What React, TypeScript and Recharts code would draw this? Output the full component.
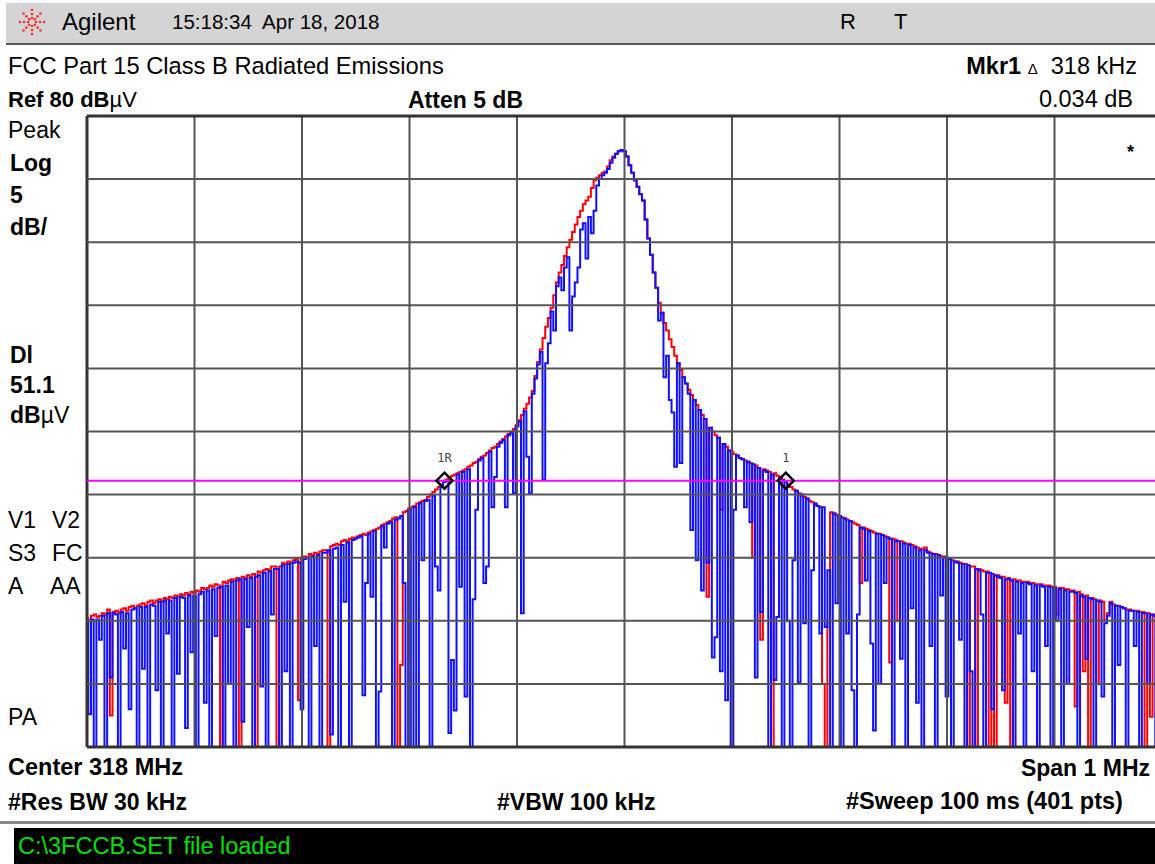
import React from "react";
import { ComposedChart, Line, XAxis, YAxis, ReferenceLine, ReferenceDot } from "recharts";

// sweep settings
const startMHz = 317.5;
const spanMHz = 1;
const sweepPoints = 401;
const displayLine = 51.1;
const freqTicks = [317.5, 317.6, 317.7, 317.8, 317.9, 318.0, 318.1, 318.2, 318.3, 318.4, 318.5];
const ampTicks = [30, 35, 40, 45, 50, 55, 60, 65, 70, 75, 80];
const markerRefIndex = 133;
const markerIndex = 260;

// trace 1 (blue, clear-write), dBuV, points 0-139 / 140-259 / 260-400
const blueLow = [
  39.9, 32.6, 40.1, 30.0, 40.1, 38.5, 40.4, 30.0, 40.6, 35.5,
  40.6, 40.5, 30.0, 40.7, 37.8, 40.6, 33.0, 40.9, 41.0, 30.0,
  41.1, 36.2, 41.1, 30.0, 41.3, 41.2, 34.5, 41.5, 30.0, 41.6,
  39.0, 41.6, 30.0, 41.8, 35.8, 41.9, 41.8, 31.5, 42.0, 37.5,
  42.0, 30.0, 42.1, 42.3, 33.5, 42.4, 30.0, 42.5, 38.8, 42.6,
  42.7, 30.0, 42.8, 35.0, 43.1, 30.0, 43.2, 43.3, 32.0, 43.3,
  39.5, 43.4, 30.0, 43.5, 43.6, 34.8, 43.8, 30.0, 43.9, 40.5,
  44.1, 44.1, 30.0, 44.4, 36.0, 44.5, 30.0, 44.6, 44.7, 44.6,
  33.0, 44.9, 45.0, 30.0, 45.1, 38.0, 45.2, 30.0, 45.4, 45.4,
  45.6, 31.0, 45.7, 45.8, 30.0, 46.0, 41.5, 46.2, 30.0, 46.4,
  46.5, 46.6, 46.7, 34.1, 43.0, 46.9, 41.9, 47.1, 30.0, 34.4,
  47.5, 45.8, 47.7, 47.8, 30.0, 48.0, 48.1, 48.3, 43.0, 30.0,
  48.8, 30.0, 49.0, 30.0, 49.3, 44.8, 49.5, 49.6, 30.0, 49.9,
  44.3, 42.4, 50.6, 51.0, 51.1, 31.1, 36.9, 32.9, 51.6, 42.7,
];
const blueMid = [
  51.8, 34.0, 52.0, 30.0, 41.7, 48.8, 52.7, 52.9, 43.0, 44.3,
  53.4, 49.0, 51.4, 53.8, 54.1, 54.3, 49.0, 54.7, 54.9, 50.1,
  55.4, 55.8, 40.6, 56.6, 53.0, 50.1, 58.0, 59.2, 60.3, 61.3,
  51.2, 60.4, 62.0, 64.5, 63.0, 66.5, 67.2, 66.2, 68.0, 68.8,
  63.0, 65.7, 66.8, 68.0, 71.0, 71.5, 68.7, 72.0, 70.7, 72.5,
  74.5, 75.0, 75.3, 75.5, 75.8, 76.3, 76.7, 77.0, 77.2, 77.3,
  77.2, 76.8, 76.1, 75.5, 74.9, 74.4, 73.8, 73.3, 71.8, 70.3,
  69.0, 67.6, 66.4, 63.8, 64.4, 59.3, 61.0, 57.5, 56.5, 52.2,
  60.4, 52.5, 59.3, 58.8, 58.0, 47.2, 57.5, 44.8, 56.7, 42.4,
  56.0, 44.6, 55.3, 37.1, 38.7, 54.5, 36.0, 54.0, 33.7, 53.5,
  30.0, 48.8, 53.1, 52.9, 52.8, 49.0, 52.6, 47.8, 52.4, 35.5,
  52.1, 40.7, 51.9, 51.8, 30.0, 51.6, 35.3, 40.3, 51.3, 30.0,
];
const blueHigh = [
  51.0, 40.0, 30.0, 44.8, 50.3, 35.1, 50.0, 39.8, 49.7, 30.0,
  44.0, 49.3, 49.1, 39.0, 49.0, 39.5, 44.0, 30.0, 48.5, 41.4,
  48.3, 30.0, 48.1, 39.0, 47.9, 34.5, 30.0, 40.5, 47.4, 47.3,
  43.2, 47.1, 38.2, 31.3, 46.9, 35.0, 46.8, 43.0, 46.6, 46.5,
  30.0, 46.3, 46.3, 37.0, 46.1, 30.0, 46.0, 41.0, 45.8, 33.5,
  45.6, 30.0, 45.6, 45.4, 38.0, 45.3, 30.0, 45.2, 42.0, 45.0,
  34.0, 44.9, 30.0, 44.7, 44.6, 38.5, 44.5, 30.0, 44.4, 36.0,
  30.0, 44.1, 44.0, 40.5, 30.0, 43.8, 43.8, 33.0, 43.6, 43.5,
  43.4, 34.5, 43.3, 43.3, 43.2, 30.0, 43.1, 39.0, 43.0, 30.0,
  43.0, 42.9, 36.0, 42.8, 30.0, 42.8, 42.7, 38.0, 42.7, 30.0,
  42.6, 40.0, 42.5, 30.0, 42.4, 35.0, 42.3, 42.3, 42.2, 30.0,
  42.0, 41.9, 37.0, 41.8, 41.7, 30.0, 41.6, 41.5, 34.0, 39.8,
  40.4, 41.4, 30.0, 41.2, 36.5, 41.1, 41.0, 30.0, 40.8, 40.8,
  38.0, 40.7, 30.0, 40.6, 40.6, 35.0, 40.5, 40.4, 30.0, 40.3,
  40.3,
];

// trace 2 (red), same point ranges
const redLow = [
  40.2, 40.0, 40.4, 40.5, 40.3, 40.4, 40.6, 40.5, 40.9, 32.5,
  40.7, 40.8, 40.6, 40.9, 41.0, 40.8, 41.1, 41.2, 41.0, 41.2,
  41.3, 41.4, 41.2, 41.5, 41.6, 41.4, 41.6, 41.7, 41.5, 41.8,
  41.7, 41.9, 41.8, 42.0, 41.9, 42.1, 42.0, 42.2, 42.1, 42.3,
  42.2, 42.4, 42.3, 42.6, 42.5, 42.6, 42.8, 42.7, 42.9, 42.8,
  30.0, 43.1, 43.0, 43.2, 43.3, 43.2, 43.4, 30.0, 43.5, 43.4,
  43.6, 43.5, 43.7, 30.0, 43.9, 43.8, 44.0, 44.1, 44.0, 44.3,
  44.3, 30.0, 44.3, 44.6, 44.5, 44.7, 44.6, 44.8, 44.9, 33.7,
  45.0, 45.1, 45.0, 45.3, 45.2, 45.4, 45.3, 45.5, 45.6, 45.6,
  30.0, 45.9, 46.0, 46.1, 46.0, 46.3, 46.4, 46.3, 46.5, 46.6,
  46.6, 46.7, 46.8, 46.9, 46.8, 47.0, 47.1, 47.2, 47.3, 47.4,
  47.6, 47.7, 47.8, 47.9, 48.1, 48.2, 30.0, 36.5, 48.6, 48.7,
  48.9, 49.0, 49.1, 49.3, 49.4, 49.5, 49.6, 49.8, 50.0, 50.2,
  50.4, 50.6, 50.8, 51.1, 51.2, 51.3, 51.5, 51.6, 51.7, 51.8,
];
const redMid = [
  51.9, 52.0, 52.2, 52.3, 52.5, 52.6, 52.8, 53.0, 53.1, 53.3,
  53.5, 53.7, 53.8, 54.0, 54.2, 54.4, 54.6, 54.8, 55.0, 55.2,
  55.5, 55.9, 56.3, 56.8, 57.2, 57.7, 58.2, 59.4, 60.5, 61.5,
  62.4, 63.3, 64.0, 64.8, 65.8, 66.8, 67.6, 68.2, 68.9, 69.6,
  70.2, 70.8, 71.4, 72.0, 72.5, 73.0, 73.3, 73.6, 74.3, 74.9,
  75.1, 75.3, 75.5, 75.6, 76.0, 76.5, 76.8, 77.0, 77.2, 77.3,
  77.2, 76.8, 76.1, 75.5, 74.9, 74.4, 73.8, 73.3, 71.8, 70.3,
  69.0, 67.6, 66.4, 65.2, 64.4, 63.6, 63.0, 62.3, 61.7, 61.0,
  60.4, 59.9, 59.3, 58.8, 58.3, 57.9, 57.5, 57.1, 56.7, 56.3,
  56.0, 41.9, 55.3, 55.0, 54.7, 54.5, 48.8, 54.0, 53.8, 53.5,
  53.4, 53.2, 53.1, 52.9, 52.8, 52.7, 52.6, 52.5, 45.0, 52.3,
  52.1, 38.5, 52.0, 51.9, 51.8, 30.0, 51.7, 51.5, 51.4, 51.2,
];
const redHigh = [
  51.0, 50.8, 50.6, 50.4, 50.3, 50.1, 49.9, 49.8, 49.7, 49.5,
  49.4, 49.2, 49.1, 49.0, 35.0, 30.0, 40.0, 48.6, 48.5, 48.4,
  48.3, 48.2, 48.1, 48.0, 47.9, 47.8, 47.7, 47.6, 43.0, 47.4,
  47.3, 47.2, 47.1, 47.0, 46.9, 46.9, 46.8, 46.7, 46.6, 36.7,
  46.5, 46.4, 40.0, 46.3, 46.2, 46.1, 46.1, 46.0, 45.9, 45.8,
  45.7, 45.7, 45.8, 45.5, 45.4, 45.3, 45.3, 45.2, 45.1, 45.1,
  45.0, 44.9, 44.8, 44.7, 44.7, 44.6, 44.5, 44.5, 30.0, 44.3,
  44.3, 30.0, 44.1, 44.0, 43.9, 43.9, 30.0, 43.7, 30.0, 43.6,
  43.5, 43.5, 33.5, 43.4, 30.0, 43.3, 43.2, 43.2, 43.1, 43.1,
  43.1, 43.0, 43.0, 42.9, 42.9, 42.9, 42.8, 42.8, 42.8, 42.7,
  42.7, 40.5, 42.6, 42.6, 42.5, 42.5, 42.4, 42.4, 33.2, 42.3,
  42.1, 36.0, 42.0, 30.0, 41.8, 41.7, 35.0, 41.6, 41.5, 40.0,
  40.6, 41.5, 41.3, 41.2, 41.2, 41.1, 41.0, 40.9, 40.9, 40.8,
  40.8, 40.8, 40.7, 40.7, 30.0, 40.6, 32.4, 40.5, 40.5, 40.4,
  40.4,
];

const trace1 = [...blueLow, ...blueMid, ...blueHigh];
const trace2 = [...redLow, ...redMid, ...redHigh];
const freqAt = (i: number) => startMHz + (i * spanMHz) / (sweepPoints - 1);
const data = trace1.map((v, i) => ({ f: freqAt(i), t1: v, t2: trace2[i] }));

const FONT = '"Liberation Sans", Arial, sans-serif';
const REG = 23; // regular annotation size
const BOLD = 23; // bold annotation size

const Txt = ({ x, cy, size = REG, bold = false, right = false, color = "#000", children }: any) => (
  <div
    style={{
      position: "absolute",
      left: right ? undefined : x,
      right: right ? 1155 - x : undefined,
      top: cy - 0.49 * size,
      fontSize: size,
      fontWeight: bold ? 700 : 400,
      lineHeight: 1,
      whiteSpace: "pre",
      color,
      fontFamily: FONT,
    }}
  >
    {children}
  </div>
);

const markerShape = (label: string) => (props: any) => {
  const { cx, cy } = props;
  return (
    <g>
      <polygon
        points={`${cx},${cy - 8} ${cx + 8},${cy} ${cx},${cy + 8} ${cx - 8},${cy}`}
        fill="none"
        stroke="#000"
        strokeWidth={2.5}
      />
      <text x={cx} y={cy - 19} textAnchor="middle" fontSize={12} fontFamily="DejaVu Sans Mono" fill="#444">
        {label}
      </text>
    </g>
  );
};

const Logo = () => {
  const rays = [0, 45, 90, 135, 180, 225, 270, 315];
  return (
    <svg width={28} height={28} style={{ position: "absolute", left: 18, top: 8 }}>
      {rays.map((a) =>
        [4, 8, 12].map((r) => (
          <circle
            key={`${a}-${r}`}
            cx={14 + r * Math.cos((a * Math.PI) / 180)}
            cy={14 + r * Math.sin((a * Math.PI) / 180)}
            r={1.3}
            fill="#ff3030"
          />
        ))
      )}
    </svg>
  );
};

export default function App() {
  return (
    <div
      style={{
        position: "absolute",
        left: 0,
        top: 0,
        width: 1155,
        height: 864,
        overflow: "hidden",
        background: "#fff",
        fontFamily: FONT,
      }}
    >
      {/* title bar */}
      <div style={{ position: "absolute", left: 6, top: 3, width: 1149, height: 40, background: "#d4d4d4", borderBottom: "2px solid #555" }} />
      <Logo />
      <Txt x={62} cy={22} size={24}>Agilent</Txt>
      <Txt x={172} cy={22} size={20.5}>15:18:34  Apr 18, 2018</Txt>
      <Txt x={840} cy={22} size={22}>R</Txt>
      <Txt x={894} cy={22} size={22}>T</Txt>

      <Txt x={8} cy={67} size={23.7}>FCC Part 15 Class B Radiated Emissions</Txt>
      <Txt x={1137} cy={67} size={23.5} right>
        <b>Mkr1</b> <span style={{ fontSize: 15 }}>Δ</span>  318 kHz
      </Txt>
      <Txt x={8} cy={100} size={22} bold>
        Ref 80 dB<span style={{ fontWeight: 400 }}>µV</span>
      </Txt>
      <Txt x={408} cy={100} bold>Atten 5 dB</Txt>
      <Txt x={1133} cy={100} size={23.5} right>0.034 dB</Txt>

      <Txt x={8} cy={130}>Peak</Txt>
      <Txt x={10} cy={163} bold>Log</Txt>
      <Txt x={10} cy={195} bold>5</Txt>
      <Txt x={10} cy={227} bold>dB/</Txt>
      <Txt x={10} cy={355} bold>Dl</Txt>
      <Txt x={10} cy={385} bold>51.1</Txt>
      <Txt x={10} cy={415} bold>
        dB<span style={{ fontWeight: 400 }}>µV</span>
      </Txt>
      <Txt x={8} cy={520}>V1</Txt>
      <Txt x={52} cy={520}>V2</Txt>
      <Txt x={8} cy={553}>S3</Txt>
      <Txt x={52} cy={553}>FC</Txt>
      <Txt x={8} cy={586}>A</Txt>
      <Txt x={50} cy={586}>AA</Txt>
      <Txt x={8} cy={717}>PA</Txt>
      <Txt x={1127} cy={152} size={18} bold>*</Txt>

      <div style={{ position: "absolute", left: 0, top: 0 }}>
        <ComposedChart
          width={1175}
          height={760}
          data={data}
          margin={{ top: 116, left: 87, right: 13, bottom: 13 }}
        >
          <XAxis dataKey="f" type="number" domain={[startMHz, startMHz + spanMHz]} ticks={freqTicks} hide />
          <YAxis type="number" domain={[30, 80]} ticks={ampTicks} hide />
          <Line
            dataKey="t2"
            type="step"
            stroke="#ff0000"
            strokeWidth={2}
            dot={false}
            isAnimationActive={false}
          />
          <Line
            dataKey="t1"
            type="step"
            stroke="#1010ff"
            strokeWidth={2}
            dot={false}
            isAnimationActive={false}
          />
          {freqTicks.map((f, k) => (
            <ReferenceLine
              key={`v${k}`}
              x={f}
              stroke={k === 0 || k === freqTicks.length - 1 ? "#333" : "#555"}
              strokeWidth={k === 0 || k === freqTicks.length - 1 ? 3 : 2}
            />
          ))}
          {ampTicks.map((a, k) => (
            <ReferenceLine
              key={`h${k}`}
              y={a}
              stroke={k === 0 || k === ampTicks.length - 1 ? "#333" : "#555"}
              strokeWidth={k === 0 || k === ampTicks.length - 1 ? 3 : 2}
            />
          ))}
          <ReferenceLine y={displayLine} stroke="#ff00ff" strokeWidth={2} />
          <ReferenceDot x={freqAt(markerRefIndex)} y={displayLine} r={8} shape={markerShape("1R")} />
          <ReferenceDot x={freqAt(markerIndex)} y={displayLine} r={8} shape={markerShape("1")} />
        </ComposedChart>
      </div>

      <Txt x={8} cy={768} size={23.5} bold>Center 318 MHz</Txt>
      <Txt x={1150} cy={768} bold right>Span 1 MHz</Txt>
      <Txt x={8} cy={802} bold>#Res BW 30 kHz</Txt>
      <Txt x={497} cy={802} bold>#VBW 100 kHz</Txt>
      <Txt x={846} cy={802} size={23.5} bold>#Sweep 100 ms (401 pts)</Txt>

      {/* status line */}
      <div style={{ position: "absolute", left: 0, top: 821, width: 1155, height: 3, background: "#888" }} />
      <div style={{ position: "absolute", left: 14, top: 828, width: 1141, height: 36, background: "#000" }} />
      <Txt x={18} cy={847} size={23.5} color="#00e000">C:\3FCCB.SET file loaded</Txt>
    </div>
  );
}
